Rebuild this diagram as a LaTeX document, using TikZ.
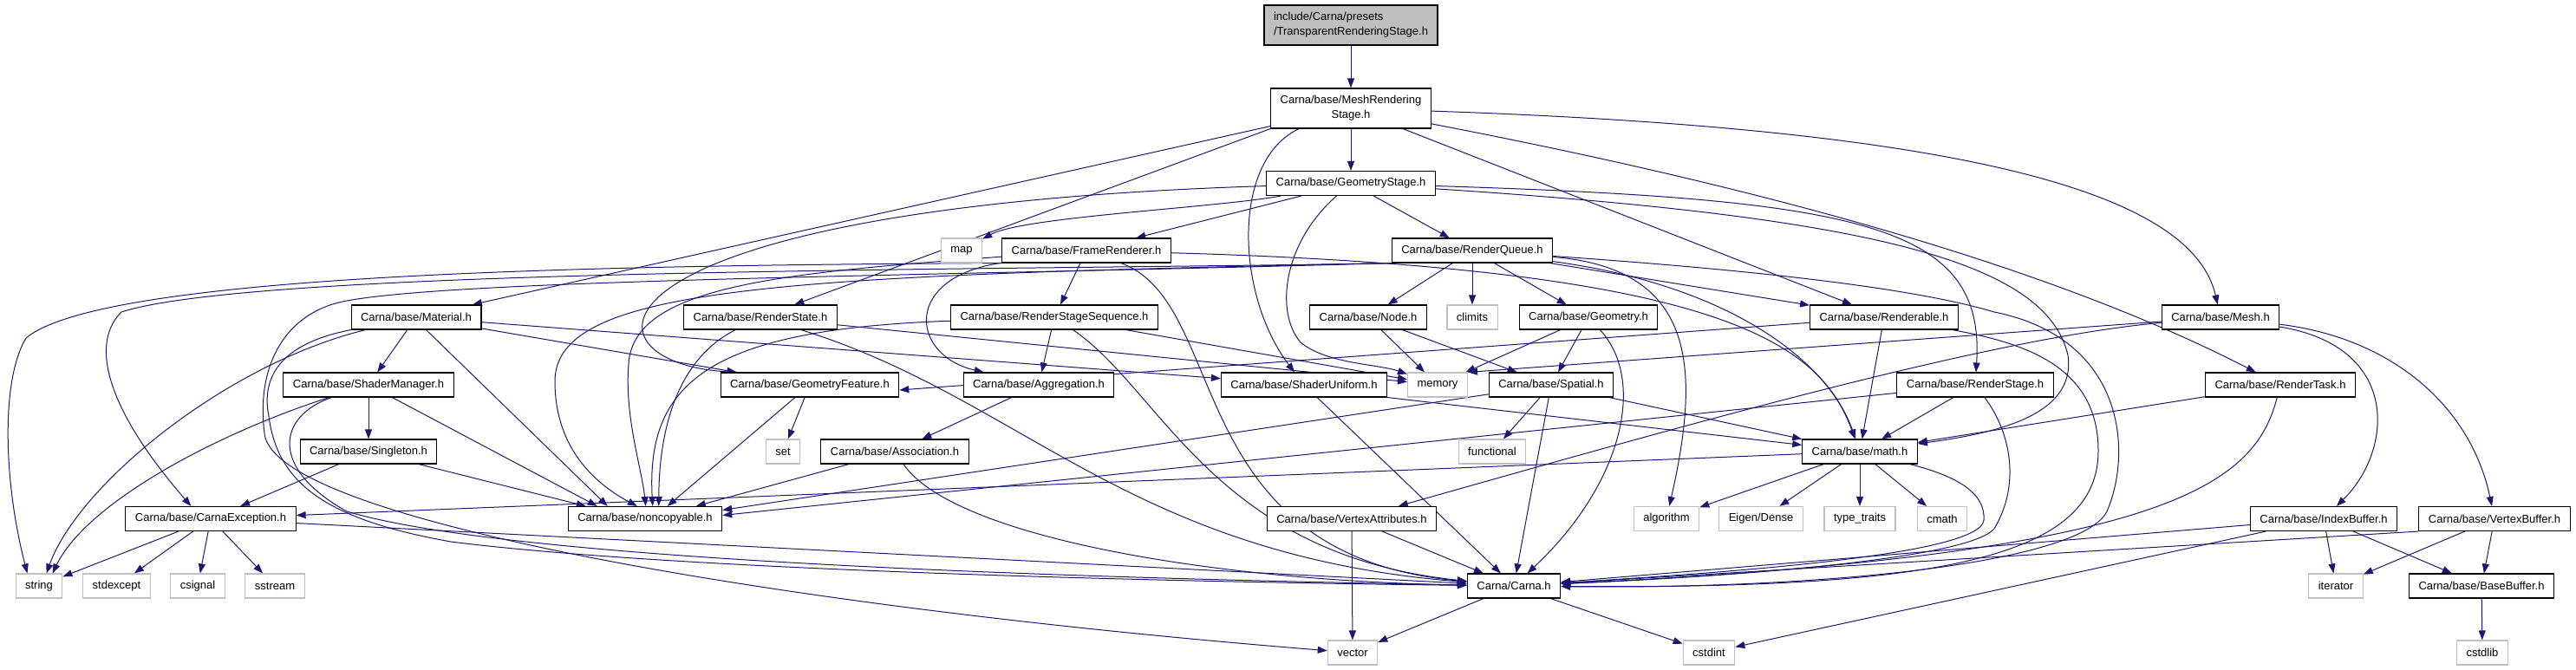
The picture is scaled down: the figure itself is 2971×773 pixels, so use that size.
\documentclass[tikz,border=0pt]{standalone}
\usepackage{fontspec}
\setmainfont{Liberation Sans}
\usetikzlibrary{arrows.meta,backgrounds}
\definecolor{incblue}{HTML}{191970}
\definecolor{grey75}{HTML}{BFBFBF}
\begin{document}
\begin{tikzpicture}[x=1pt,y=-1pt,>={Triangle[length=11pt,width=8pt]},line width=1pt,
  font=\fontsize{13}{17}\selectfont,
  hfile/.style={draw=black,fill=white,line width=1.1pt,inner xsep=11pt,inner ysep=2pt,minimum height=28pt},
  sysh/.style={hfile,draw=grey75},
  twoline/.style={minimum height=46pt},
  incl/.style={->,color=incblue,line width=1pt}]
  \useasboundingbox (0,0) rectangle (2971,773);
  % rank 0-2
  \node[hfile,twoline,fill=grey75,align=left] (trs) at (1558,29) {include/Carna/presets\\/TransparentRenderingStage.h};
  \node[hfile,twoline,align=center] (mrs) at (1558,125) {Carna/base/MeshRendering\\Stage.h};
  \node[hfile] (geomstage) at (1558,211.5) {Carna/base/GeometryStage.h};
  % rank 3
  \node[sysh] (map) at (1109,289) {map};
  \node[hfile] (framerend) at (1253,289) {Carna/base/FrameRenderer.h};
  \node[hfile] (rqueue) at (1698,289) {Carna/base/RenderQueue.h};
  % rank 4
  \node[hfile] (material) at (480,366) {Carna/base/Material.h};
  \node[hfile] (rstate) at (877,366) {Carna/base/RenderState.h};
  \node[hfile] (rsseq) at (1216,366) {Carna/base/RenderStageSequence.h};
  \node[hfile] (nodeh) at (1578,366) {Carna/base/Node.h};
  \node[sysh] (climits) at (1698,366) {climits};
  \node[hfile] (geometry) at (1832,366) {Carna/base/Geometry.h};
  \node[hfile] (renderable) at (2173,366) {Carna/base/Renderable.h};
  \node[hfile] (mesh) at (2561,366) {Carna/base/Mesh.h};
  % rank 5
  \node[hfile] (shadermgr) at (425,444) {Carna/base/ShaderManager.h};
  \node[hfile] (geomfeat) at (934,444) {Carna/base/GeometryFeature.h};
  \node[hfile] (aggreg) at (1198,444) {Carna/base/Aggregation.h};
  \node[hfile] (shaderuni) at (1504,444) {Carna/base/ShaderUniform.h};
  \node[sysh] (memory) at (1658,444) {memory};
  \node[hfile] (spatial) at (1789,444) {Carna/base/Spatial.h};
  \node[hfile] (rstage) at (2278,444) {Carna/base/RenderStage.h};
  \node[hfile] (rtask) at (2630,444) {Carna/base/RenderTask.h};
  % rank 6
  \node[hfile] (singleton) at (425,521) {Carna/base/Singleton.h};
  \node[sysh] (set) at (903,521) {set};
  \node[hfile] (association) at (1032,521) {Carna/base/Association.h};
  \node[sysh] (functional) at (1721,521) {functional};
  \node[hfile] (math) at (2145,521) {Carna/base/math.h};
  % rank 7
  \node[hfile] (carnaexc) at (243,598.5) {Carna/base/CarnaException.h};
  \node[hfile] (noncopy) at (744,598.5) {Carna/base/noncopyable.h};
  \node[hfile] (vattr) at (1559,598.5) {Carna/base/VertexAttributes.h};
  \node[sysh] (algorithm) at (1922,598.5) {algorithm};
  \node[sysh] (eigen) at (2031,598.5) {Eigen/Dense};
  \node[sysh] (typetraits) at (2145,598.5) {type\_traits};
  \node[sysh] (cmath) at (2240,598.5) {cmath};
  \node[hfile] (ibuf) at (2680,598.5) {Carna/base/IndexBuffer.h};
  \node[hfile] (vbuf) at (2877,598.5) {Carna/base/VertexBuffer.h};
  % rank 8
  \node[sysh] (string) at (45,676) {string};
  \node[sysh] (stdexcept) at (134.5,676) {stdexcept};
  \node[sysh] (csignal) at (228,676) {csignal};
  \node[sysh] (sstream) at (317,676) {sstream};
  \node[hfile] (carna) at (1746,676) {Carna/Carna.h};
  \node[sysh] (iterator) at (2694,676) {iterator};
  \node[hfile] (basebuf) at (2862,676) {Carna/base/BaseBuffer.h};
  % rank 9
  \node[sysh] (vector) at (1560,753) {vector};
  \node[sysh] (cstdint) at (1971,753) {cstdint};
  \node[sysh] (cstdlib) at (2863,753) {cstdlib};

  \begin{scope}[on background layer]
  % TransparentRenderingStage / MeshRenderingStage
  \draw[incl] (trs) -- (mrs);
  \draw[incl] (mrs) -- (geomstage);
  \draw[incl] (mrs) -- (material);
  \draw[incl] (mrs.south west) -- (rstate);
  \draw[incl] ([xshift=33pt]mrs.south west) .. controls (1420,185) and (1425,340) .. (shaderuni);
  \draw[incl] (mrs) -- (renderable);
  \draw[incl] (mrs) .. controls (2300,150) and (2530,230) .. (mesh);
  \draw[incl] (mrs) .. controls (2000,210) and (2350,300) .. (rtask);
  % GeometryStage
  \draw[incl] (geomstage) .. controls (1400,240) and (1180,250) .. (map);
  \draw[incl] (geomstage) -- (framerend);
  \draw[incl] (geomstage) -- (rqueue);
  \draw[incl] (geomstage) .. controls (1480,280) and (1470,360) .. (1500,395) .. controls (1530,420) and (1590,420) .. (memory);
  \draw[incl] (geomstage) .. controls (650,240) and (660,420) .. ([xshift=20pt]geomfeat.north west);
  \draw[incl] (geomstage) .. controls (2150,230) and (2290,260) .. (rstage);
  \draw[incl] (geomstage) .. controls (2150,250) and (2360,300) .. (2385,410) .. controls (2395,480) and (2300,500) .. (math);
  % FrameRenderer
  \draw[incl] (framerend) -- (rsseq);
  \draw[incl] (framerend) .. controls (1040,320) and (1050,410) .. (aggreg);
  \draw[incl] (framerend) .. controls (1420,350) and (1360,640) .. (carna);
  \draw[incl] (framerend) .. controls (900,315) and (730,330) .. (725,420) .. controls (720,480) and (740,540) .. ([xshift=90pt]noncopy.north west);
  \draw[incl] (framerend.south west) .. controls (700,306) and (120,315) .. (30,390) .. controls (0,440) and (5,560) .. ([xshift=14pt]string.north west);
  \draw[incl] (framerend) .. controls (2000,310) and (2100,400) .. (math);
  % RenderQueue
  \draw[incl] (rqueue) -- (nodeh);
  \draw[incl] (rqueue) -- (climits);
  \draw[incl] (rqueue) -- (geometry);
  \draw[incl] (rqueue) -- (renderable);
  \draw[incl] (rqueue) .. controls (1960,310) and (1960,430) .. (algorithm);
  \draw[incl] (rqueue) .. controls (2000,330) and (2110,420) .. (math);
  \draw[incl] (rqueue) .. controls (2000,310) and (2200,330) .. (2300,360) .. controls (2450,390) and (2460,520) .. (2430,590) .. controls (2400,650) and (2100,680) .. (carna);
  \draw[incl] (rqueue.south west) .. controls (900,318) and (640,330) .. (640,440) .. controls (640,520) and (690,560) .. ([xshift=80pt]noncopy.north west);
  \draw[incl] (rqueue.south west) .. controls (1200,312) and (300,308) .. (140,360) .. controls (100,400) and (130,480) .. ([xshift=76pt]carnaexc.north west);
  \draw[incl] (rqueue.south west) .. controls (1100,318) and (520,322) .. (395,348) .. controls (330,362) and (295,420) .. (305,500) .. controls (315,600) and (900,700) .. (vector);
  % Material
  \draw[incl] (material) -- (shadermgr);
  \draw[incl] ([xshift=87pt]material.south west) -- ([xshift=46pt]noncopy.north west);
  \draw[incl] (material) -- (geomfeat);
  \draw[incl] (material) -- (shaderuni);
  \draw[incl] ([xshift=17pt]material.south west) .. controls (260,420) and (90,560) .. ([xshift=36pt]string.north west);
  \draw[incl] (material) .. controls (330,395) and (300,430) .. (310,480) .. controls (320,560) and (380,600) .. (520,625) .. controls (800,660) and (1400,672) .. (carna);
  % RenderState, RenderStageSequence
  \draw[incl] (rstate) .. controls (770,420) and (760,520) .. ([xshift=105pt]noncopy.north west);
  \draw[incl] (rstate) .. controls (1180,460) and (1300,640) .. (carna);
  \draw[incl] (rstate) -- (memory);
  \draw[incl] (rsseq) -- (aggreg);
  \draw[incl] (rsseq) .. controls (820,380) and (745,440) .. ([xshift=98pt]noncopy.north west);
  \draw[incl] (rsseq) .. controls (1340,450) and (1400,640) .. (carna);
  \draw[incl] (rsseq) -- (memory);
  % Node, Geometry, Renderable
  \draw[incl] (nodeh) -- (memory);
  \draw[incl] (nodeh) -- (spatial);
  \draw[incl] (geometry) -- (memory);
  \draw[incl] (geometry) -- (spatial);
  \draw[incl] (geometry) .. controls (1900,440) and (1870,560) .. (carna);
  \draw[incl] (renderable) -- ([yshift=-6pt]geomfeat.east);
  \draw[incl] (renderable) -- (math);
  \draw[incl] (renderable) .. controls (2330,395) and (2420,420) .. (2420,520) .. controls (2420,640) and (2250,680) .. (carna);
  % Mesh
  \draw[incl] (mesh) -- (memory.north east);
  \draw[incl] (mesh) .. controls (2300,390) and (1980,480) .. ([xshift=152pt]vattr.north west);
  \draw[incl] (mesh) .. controls (2770,400) and (2760,520) .. (ibuf);
  \draw[incl] (mesh) .. controls (2760,390) and (2850,470) .. (vbuf);
  % ShaderManager, GeometryFeature, Aggregation, Association
  \draw[incl] (shadermgr) -- (singleton);
  \draw[incl] (shadermgr) -- ([xshift=34pt]noncopy.north west);
  \draw[incl] (shadermgr) .. controls (250,500) and (100,580) .. ([xshift=43pt]string.north west);
  \draw[incl] (shadermgr) .. controls (320,480) and (310,540) .. (400,590) .. controls (600,650) and (1300,668) .. (carna);
  \draw[incl] (geomfeat) -- (set);
  \draw[incl] (geomfeat) -- ([xshift=115pt]noncopy.north west);
  \draw[incl] (aggreg) -- (association);
  \draw[incl] (association) -- ([xshift=148pt]noncopy.north west);
  \draw[incl] (association) .. controls (1100,620) and (1400,670) .. (carna);
  % ShaderUniform, Spatial
  \draw[incl] (shaderuni) -- (carna);
  \draw[incl] (shaderuni.south east) -- (math);
  \draw[incl] (spatial) -- (functional);
  \draw[incl] (spatial) -- (carna);
  \draw[incl] (spatial) -- (math);
  \draw[incl] (spatial) -- ([yshift=10pt]noncopy.east);
  % RenderStage, RenderTask
  \draw[incl] (rstage) -- (math);
  \draw[incl] (rstage) -- ([yshift=4pt]noncopy.east);
  \draw[incl] (rstage) .. controls (2320,500) and (2330,560) .. (2300,610) .. controls (2270,645) and (2000,665) .. (carna);
  \draw[incl] (rtask) -- (math);
  \draw[incl] (rtask) .. controls (2600,560) and (2500,640) .. (carna);
  % Singleton, math
  \draw[incl] (singleton) -- (carnaexc);
  \draw[incl] (singleton) -- ([xshift=21pt]noncopy.north west);
  \draw[incl] (math) -- (carnaexc);
  \draw[incl] (math) -- (algorithm);
  \draw[incl] (math) -- (eigen);
  \draw[incl] (math) -- (typetraits);
  \draw[incl] (math) -- (cmath);
  \draw[incl] (math) .. controls (2260,550) and (2290,570) .. (2288,600) .. controls (2285,640) and (2000,660) .. (carna);
  % CarnaException
  \draw[incl] (carnaexc) -- (string);
  \draw[incl] (carnaexc) -- (stdexcept);
  \draw[incl] (carnaexc) -- (csignal);
  \draw[incl] (carnaexc) -- (sstream);
  \draw[incl] (carnaexc) -- (carna);
  % VertexAttributes, buffers
  \draw[incl] (vattr) -- (vector);
  \draw[incl] (vattr) -- (carna);
  \draw[incl] (ibuf) -- (iterator);
  \draw[incl] (ibuf) -- (basebuf);
  \draw[incl] (ibuf) -- (carna);
  \draw[incl] (ibuf) -- (cstdint);
  \draw[incl] (vbuf) -- (iterator);
  \draw[incl] (vbuf) -- (basebuf);
  \draw[incl] (vbuf.south west) -- (carna);
  \draw[incl] (basebuf) -- (cstdlib);
  % Carna.h
  \draw[incl] (carna) -- (vector);
  \draw[incl] (carna) -- (cstdint);
  \end{scope}
\end{tikzpicture}
\end{document}
